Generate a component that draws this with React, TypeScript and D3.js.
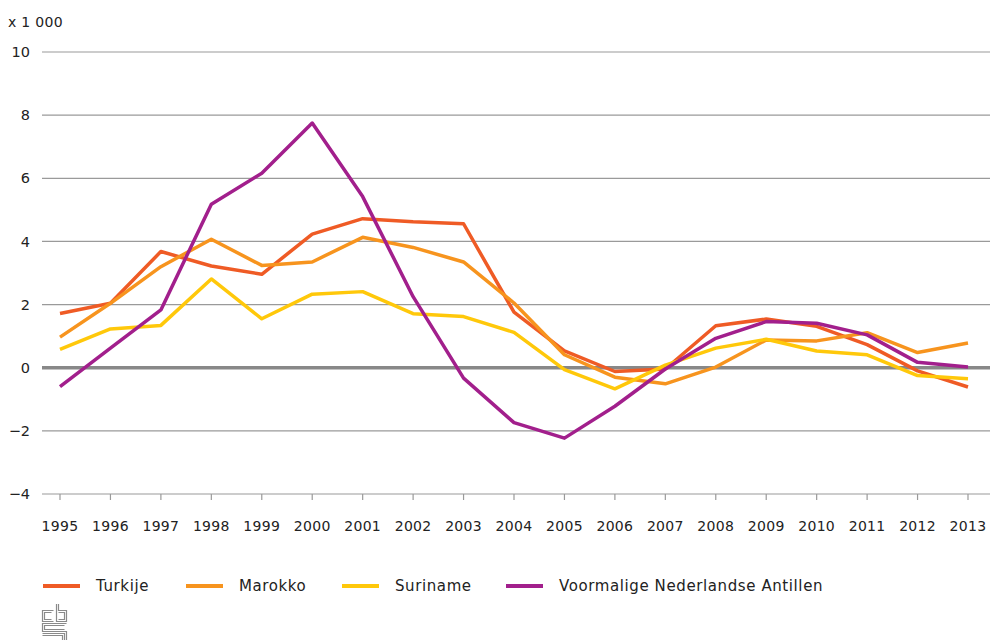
import React from "react";
import * as d3 from "d3";

const years = [1995,1996,1997,1998,1999,2000,2001,2002,2003,2004,2005,2006,2007,2008,2009,2010,2011,2012,2013];
const turkije = [1.72,2.04,3.68,3.22,2.96,4.23,4.72,4.62,4.56,1.76,0.53,-0.12,-0.04,1.33,1.54,1.31,0.73,-0.1,-0.61];
const marokko = [0.97,2.04,3.2,4.07,3.24,3.35,4.13,3.81,3.35,2.05,0.41,-0.3,-0.51,0.02,0.88,0.85,1.11,0.48,0.78];
const suriname = [0.58,1.23,1.34,2.81,1.55,2.33,2.41,1.71,1.62,1.12,-0.06,-0.67,0.08,0.62,0.9,0.53,0.41,-0.25,-0.35];
const antillen = [-0.6,0.62,1.83,5.18,6.16,7.75,5.42,2.25,-0.33,-1.74,-2.23,-1.22,-0.04,0.93,1.46,1.41,1.04,0.17,0.02];
const yTicks = [-4,-2,0,2,4,6,8,10];
const seriesNames = ["Turkije","Marokko","Suriname","Voormalige Nederlandse Antillen"];
const seriesColors = ["#ef5b25","#f7941e","#ffc80a","#a21f8c"];
const legendX = [43,186,342,506];

export default function App() {
  const W = 990, H = 640;
  const x = d3.scaleLinear().domain([1995, 2013]).range([60, 968]);
  const y = d3.scaleLinear().domain([-4, 10]).range([494, 52]);
  const line = d3.line<number>().x((_, i) => x(years[i])).y(d => y(d));
  const all = [turkije, marokko, suriname, antillen];
  const font = "'DejaVu Sans', 'Noto Sans', sans-serif";
  const fmt = (v: number) => (v < 0 ? "\u2212" + Math.abs(v) : String(v));
  return (
    <svg width={W} height={H} style={{ position: "absolute", left: 0, top: 0, background: "#fff" }} fontFamily={font}>
      <text x={8} y={27} fontSize={14} fill="#222" letterSpacing={0.3}>x 1 000</text>
      {yTicks.map(t => (
        <g key={t}>
          <line x1={42} x2={990} y1={y(t)} y2={y(t)} stroke={t === 0 ? "#888" : "#9a9a9a"} strokeWidth={t === 0 ? 3.5 : 1.2} />
          <text x={30} y={y(t)} dy="0.35em" textAnchor="end" fontSize={14.5} fill="#222">{fmt(t)}</text>
        </g>
      ))}
      {years.map(yr => (
        <g key={yr}>
          <line x1={x(yr)} x2={x(yr)} y1={494} y2={500} stroke="#9a9a9a" strokeWidth={1.2} />
          <text x={x(yr)} y={531} textAnchor="middle" fontSize={14} fill="#222" letterSpacing={0.3}>{yr}</text>
        </g>
      ))}
      {all.map((s, i) => (
        <path key={i} d={line(s) || ""} fill="none" stroke={seriesColors[i]} strokeWidth={3.5} strokeLinejoin="round" />
      ))}
      {seriesNames.map((n, i) => (
        <g key={n}>
          <line x1={legendX[i]} x2={legendX[i] + 37} y1={586} y2={586} stroke={seriesColors[i]} strokeWidth={4} />
          <text x={legendX[i] + 53} y={589} dy="0.1em" fontSize={15} fill="#222" letterSpacing={0.6}>{n}</text>
        </g>
      ))}
      <g fill="none" stroke="#8a8a8a" strokeWidth={1.2}>
        <path d="M53.5,610.5 H42.5 V621.5 H53.5 M51.5,612.5 H44.5 V619.5 H51.5" />
        <path d="M56.5,604 V621.5 H66.5 V610.5 H58.5 V604 M58.5,612.5 H64.5 V619.5 H58.5" />
        <path d="M66.5,623.5 H42.5 V631.5 H66.5 V640 M64.5,625.5 H44.5 V629.5 H64.5 M42.5,633.5 H64.5 V640 M42.5,635.5 H62.5 V640" />
      </g>
    </svg>
  );
}
